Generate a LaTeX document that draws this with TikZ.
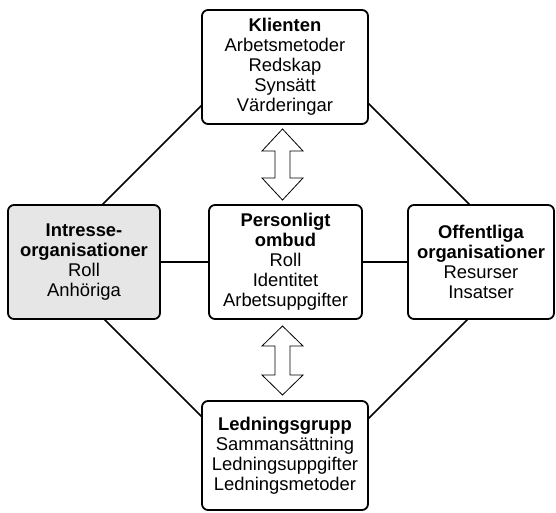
\documentclass[tikz,border=0pt]{standalone}
\usepackage{fontspec}
\setmainfont{Liberation Sans}
\usetikzlibrary{backgrounds}
\definecolor{boxgray}{RGB}{230,230,231}
\tikzset{
  box/.style={draw=black, line width=1.8pt, rounded corners=6pt, fill=white,
    align=center, inner sep=0pt, anchor=center,
    font=\fontsize{18.4}{20}\selectfont},
  link/.style={draw=black, line width=1.5pt},
  dblarrow/.style={draw=black, line width=0.8pt, fill=white, line join=miter}
}
\begin{document}
\begin{tikzpicture}[x=1pt, y=-1pt]
\useasboundingbox (0,0) rectangle (556,513);
% boxes
\node[box, minimum width=166pt, minimum height=114pt] (top) at (285,67)
  {\textbf{Klienten}\\Arbetsmetoder\\Redskap\\Synsätt\\Värderingar};
\node[box, fill=boxgray, minimum width=152pt, minimum height=114pt] (lft) at (84,262)
  {\textbf{Intresse-}\\\textbf{organisationer}\\Roll\\Anhöriga};
\node[box, minimum width=153pt, minimum height=114pt] (ctr) at (285.5,262)
  {\textbf{Personligt}\\\textbf{ombud}\\Roll\\Identitet\\Arbetsuppgifter};
\node[box, minimum width=146pt, minimum height=114pt] (rgt) at (481,262)
  {\textbf{Offentliga}\\\textbf{organisationer}\\Resurser\\Insatser};
\node[box, minimum width=166pt, minimum height=109pt] (bot) at (285,455.5)
  {\textbf{Ledningsgrupp}\\Sammansättning\\Ledningsuppgifter\\Ledningsmetoder};
% diamond vertices (hidden behind the boxes)
\coordinate (dT) at (286,21);
\coordinate (dL) at (46,261);
\coordinate (dB) at (286,501);
\coordinate (dR) at (526,261);
\begin{scope}[on background layer]
  \draw[link] (dL) -- (dT) -- (dR) -- (dB) -- cycle;
  \draw[link] (lft.east) -- (ctr.west);
  \draw[link] (ctr.east) -- (rgt.west);
\end{scope}
% double arrows
\draw[dblarrow] (282.5,129) -- (303,151) -- (290,151) -- (290,178) -- (303,178)
  -- (282.5,200) -- (262,178) -- (275,178) -- (275,151) -- (262,151) -- cycle;
\draw[dblarrow] (282.5,326) -- (303,346) -- (290,346) -- (290,375) -- (303,375)
  -- (282.5,395) -- (262,375) -- (275,375) -- (275,346) -- (262,346) -- cycle;
\end{tikzpicture}
\end{document}
